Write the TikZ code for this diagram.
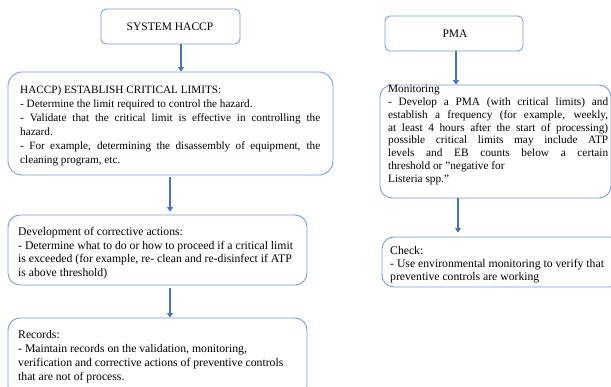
\documentclass[tikz,border=0pt]{standalone}
\usepackage{fontspec}
\setmainfont{Liberation Serif}
\usetikzlibrary{arrows.meta,calc}
\definecolor{boxblue}{RGB}{125,155,212}
\definecolor{arrblue}{RGB}{68,114,196}
\tikzset{
  box/.style={draw=boxblue, line width=0.9pt, rounded corners=#1, fill=white},
  box/.default=12pt,
  txt/.style 2 args={anchor=north west, inner sep=0pt, align=left, font=\fontsize{#1}{#2}\selectfont},
  ttl/.style={inner sep=0pt, font=\fontsize{11.5}{13}\selectfont},
  arr/.style={draw=arrblue, line width=1.7pt, -{Triangle[length=4.5pt,width=6pt]}}
}
\begin{document}
\begin{tikzpicture}[x=1pt,y=-1pt]
\useasboundingbox (0,0) rectangle (611,387);
\clip (0,0) rectangle (611,387);
\fill[white] (0,0) rectangle (611,387);
% left column
\node[box=5pt, minimum width=139pt, minimum height=35pt] (sys) at (170.5,26.5) {};
\node[ttl] (systxt) at (170,27) {SYSTEM HACCP};
\node[box=14pt, minimum width=325pt, minimum height=103pt] (haccp) at (170.5,123.5) {};
\node[txt={11.2}{14}] (haccptxt) at (20,86) {HACCP) ESTABLISH CRITICAL LIMITS:\\
- Determine the limit required to control the hazard.\\
\makebox[300pt][s]{- Validate that the critical limit is effective in controlling the}\\
hazard.\\
\makebox[300pt][s]{- For example, determining the disassembly of equipment, the}\\
cleaning program, etc.};
\node[box, minimum width=299pt, minimum height=70pt] (dev) at (157.5,250) {};
\node[txt={11.7}{13.6}] (devtxt) at (18,227) {Development of corrective actions:\\
- Determine what to do or how to proceed if a critical limit\\
is exceeded (for example, re- clean and re-disinfect if ATP\\
is above threshold)};
\node[box, minimum width=299pt, minimum height=80pt] (rec) at (157.5,358) {};
\node[txt={11.7}{14}] (rectxt) at (18,330) {Records:\\
- Maintain records on the validation, monitoring,\\
verification and corrective actions of preventive controls\\
that are not of process.};
% right column
\node[box=5pt, minimum width=138pt, minimum height=35pt] (pma) at (454,33.5) {};
\node[ttl] (pmatxt) at (455,34) {PMA};
\node[box, minimum width=231pt, minimum height=113pt] (mon) at (495.5,141.5) {};
\node[txt={11.3}{12.8}] (montxt) at (388,85) {Monitoring\\
\makebox[220pt][s]{- Develop a PMA (with critical limits) and}\\
\makebox[220pt][s]{establish a frequency (for example, weekly,}\\
\makebox[220pt][s]{at least 4 hours after the start of processing)}\\
\makebox[220pt][s]{possible critical limits may include ATP}\\
\makebox[220pt][s]{levels and EB counts below a certain}\\
threshold or "negative for\\
Listeria spp."};
\node[box, minimum width=240pt, minimum height=50pt] (chk) at (502,262) {};
\node[txt={11.7}{13}] (chktxt) at (390,246) {Check:\\
- Use environmental monitoring to verify that\\
preventive controls are working};
% connectors
\coordinate (c1) at (181,0);
\coordinate (c2) at (170,0);
\coordinate (c3) at (456,0);
\coordinate (c4) at (458,0);
\draw[arr] (sys.south -| c1) -- (haccp.north -| c1);
\draw[arr] ($(haccp.south -| c2)+(0,2)$) -- ($(dev.north -| c2)+(0,-3)$);
\draw[arr] ($(dev.south -| c2)+(0,3)$) -- (rec.north -| c2);
\draw[arr] (pma.south -| c3) -- (mon.north -| c3);
\draw[arr] (mon.south -| c4) -- ($(chk.north -| c4)+(0,-4)$);
\end{tikzpicture}
\end{document}
